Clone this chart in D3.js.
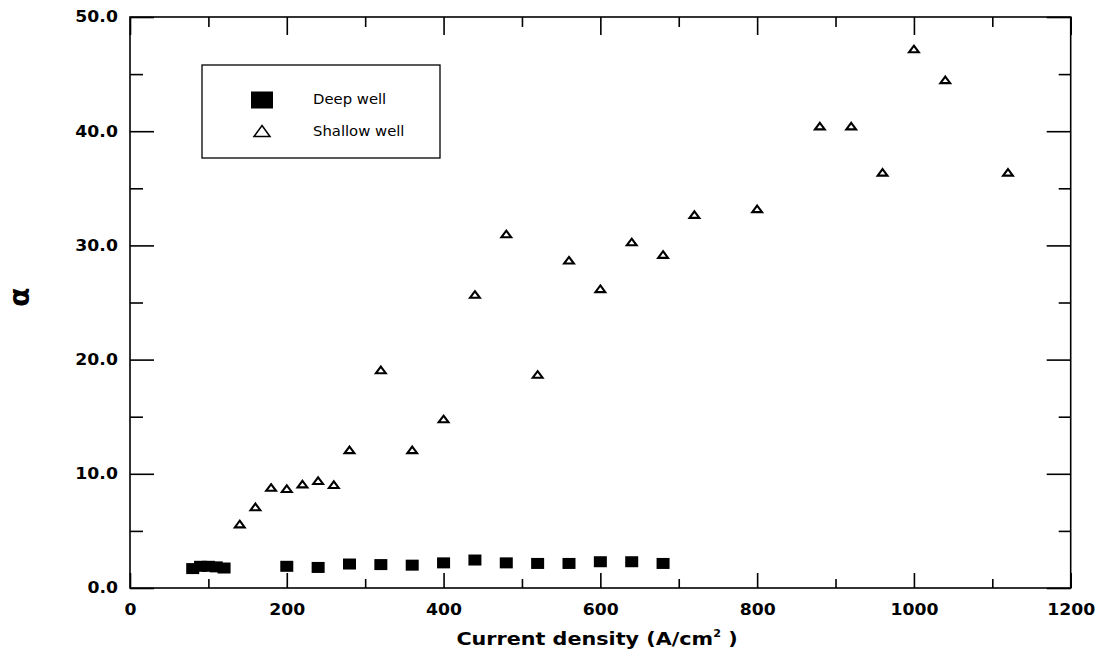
<!DOCTYPE html>
<html>
<head>
<meta charset="utf-8">
<script src="https://cdn.jsdelivr.net/npm/d3@7"></script>
<style>
  body { margin: 0; background: #fff; }
</style>
</head>
<body>
<svg id="viewer"></svg>
<script>
// deep well (filled squares)
var deepX = [80, 90, 100, 110, 120, 200, 240, 280, 320, 360, 400, 440, 480, 520, 560, 600, 640, 680];
var deepY = [1.7, 1.9, 1.9, 1.85, 1.75, 1.9, 1.8, 2.1, 2.05, 2.0, 2.2, 2.45, 2.2, 2.15, 2.15, 2.3, 2.3, 2.15];

// shallow well (open triangles)
var shallowX = [140, 160, 180, 200, 220, 240, 260, 280, 320, 360, 400, 440, 480, 520, 560, 600, 640, 680, 720, 800, 880, 920, 960, 1000, 1040, 1120];
var shallowY = [5.6, 7.1, 8.8, 8.7, 9.1, 9.4, 9.05, 12.1, 19.1, 12.1, 14.8, 25.7, 31.0, 18.7, 28.7, 26.2, 30.3, 29.2, 32.7, 33.2, 40.45, 40.45, 36.4, 47.2, 44.5, 36.4];

var xMajorTicks = [0, 200, 400, 600, 800, 1000, 1200];
var xMinorTicks = [100, 300, 500, 700, 900, 1100];
var yMajorTicks = [0, 10, 20, 30, 40, 50];
var yMinorTicks = [5, 15, 25, 35, 45];
var legendLabels = ['Deep well', 'Shallow well'];
var xTitle = 'Current density (A/cm';
var yTitle = '\u03b1';

var viewer = d3.select('#viewer')
  .attr('width', 1101)
  .attr('height', 657);

var x = d3.scaleLinear().domain([0, 1200]).range([130, 1070.7]);
var y = d3.scaleLinear().domain([0, 50]).range([588, 17]);

var tickFont = 'DejaVu Sans';
function noLabel(){ return ''; }

function styleAxis(g){
  g.select('.domain').remove();
  g.selectAll('line').attr('stroke', '#000').attr('stroke-width', 1.6);
  g.selectAll('text')
    .attr('font-family', tickFont)
    .attr('font-weight', 'bold')
    .attr('font-size', 15)
    .attr('fill', '#000')
    .attr('transform', 'scale(1.15,1)');
}

// bottom axis, ticks pointing inward
viewer.append('g')
  .attr('transform', 'translate(0,' + y(0) + ')')
  .call(d3.axisBottom(x).tickValues(xMajorTicks).tickSize(-15).tickPadding(16).tickFormat(d3.format('d')))
  .call(styleAxis);
viewer.append('g')
  .attr('transform', 'translate(0,' + y(0) + ')')
  .call(d3.axisBottom(x).tickValues(xMinorTicks).tickSize(-9).tickFormat(noLabel))
  .call(styleAxis);

// top axis
viewer.append('g')
  .attr('transform', 'translate(0,' + y(50) + ')')
  .call(d3.axisTop(x).tickValues(xMajorTicks).tickSize(-18).tickFormat(noLabel))
  .call(styleAxis);
viewer.append('g')
  .attr('transform', 'translate(0,' + y(50) + ')')
  .call(d3.axisTop(x).tickValues(xMinorTicks).tickSize(-10).tickFormat(noLabel))
  .call(styleAxis);

// left axis
viewer.append('g')
  .attr('transform', 'translate(' + x(0) + ',0)')
  .call(d3.axisLeft(y).tickValues(yMajorTicks).tickSize(-24).tickPadding(10.5).tickFormat(d3.format('.1f')))
  .call(styleAxis);
viewer.append('g')
  .attr('transform', 'translate(' + x(0) + ',0)')
  .call(d3.axisLeft(y).tickValues(yMinorTicks).tickSize(-13).tickFormat(noLabel))
  .call(styleAxis);

// right axis
viewer.append('g')
  .attr('transform', 'translate(' + x(1200) + ',0)')
  .call(d3.axisRight(y).tickValues(yMajorTicks).tickSize(-24).tickFormat(noLabel))
  .call(styleAxis);
viewer.append('g')
  .attr('transform', 'translate(' + x(1200) + ',0)')
  .call(d3.axisRight(y).tickValues(yMinorTicks).tickSize(-12).tickFormat(noLabel))
  .call(styleAxis);

// frame
viewer.append('rect')
  .attr('x', x(0))
  .attr('y', y(50))
  .attr('width', x(1200) - x(0))
  .attr('height', y(0) - y(50))
  .attr('fill', 'none')
  .attr('stroke', '#000')
  .attr('stroke-width', 1.6);

// markers
var triPath = 'M0,-3.3 L4.9,3.3 L-4.9,3.3 Z';

viewer.selectAll('.deep')
  .data(d3.zip(deepX, deepY))
  .enter().append('rect')
    .attr('class', 'deep')
    .attr('x', function(d){ return x(d[0]) - 6.5; })
    .attr('y', function(d){ return y(d[1]) - 5.5; })
    .attr('width', 13)
    .attr('height', 11)
    .attr('fill', '#000');

viewer.selectAll('.shallow')
  .data(d3.zip(shallowX, shallowY))
  .enter().append('path')
    .attr('class', 'shallow')
    .attr('d', triPath)
    .attr('transform', function(d){ return 'translate(' + x(d[0]) + ',' + y(d[1]) + ')'; })
    .attr('fill', '#fff')
    .attr('stroke', '#000')
    .attr('stroke-width', 2.1);

// legend
var legend = viewer.append('g');
legend.append('rect')
  .attr('x', 202).attr('y', 65)
  .attr('width', 238).attr('height', 93)
  .attr('fill', '#fff')
  .attr('stroke', '#000')
  .attr('stroke-width', 1.3);
legend.append('rect')
  .attr('x', 251).attr('y', 91.5)
  .attr('width', 22).attr('height', 17)
  .attr('fill', '#000');
legend.append('path')
  .attr('d', 'M0,-5.5 L8,5.5 L-8,5.5 Z')
  .attr('transform', 'translate(262,131)')
  .attr('fill', '#fff')
  .attr('stroke', '#000')
  .attr('stroke-width', 1.5);
legend.selectAll('.legendText')
  .data(legendLabels)
  .enter().append('text')
    .attr('class', 'legendText')
    .attr('transform', function(d, i){ return 'translate(313,' + (104 + i * 32) + ') scale(1.06,1)'; })
    .attr('font-family', tickFont)
    .attr('font-size', 14)
    .attr('fill', '#000')
    .text(function(d){ return d; });

// axis titles
var xt = viewer.append('text')
  .attr('transform', 'translate(597,645) scale(1.12,1)')
  .attr('text-anchor', 'middle')
  .attr('font-family', tickFont)
  .attr('font-weight', 'bold')
  .attr('font-size', 18.5)
  .attr('fill', '#000');
xt.append('tspan').text(xTitle);
xt.append('tspan').attr('font-size', 10).attr('dy', -8).text('2');
xt.append('tspan').attr('dy', 8).text(' )');

viewer.append('text')
  .attr('transform', 'translate(19,297) rotate(-90)')
  .attr('text-anchor', 'middle')
  .attr('dominant-baseline', 'central')
  .attr('font-family', tickFont)
  .attr('font-weight', 'bold')
  .attr('font-size', 28)
  .attr('fill', '#000')
  .text(yTitle);
</script>
</body>
</html>
